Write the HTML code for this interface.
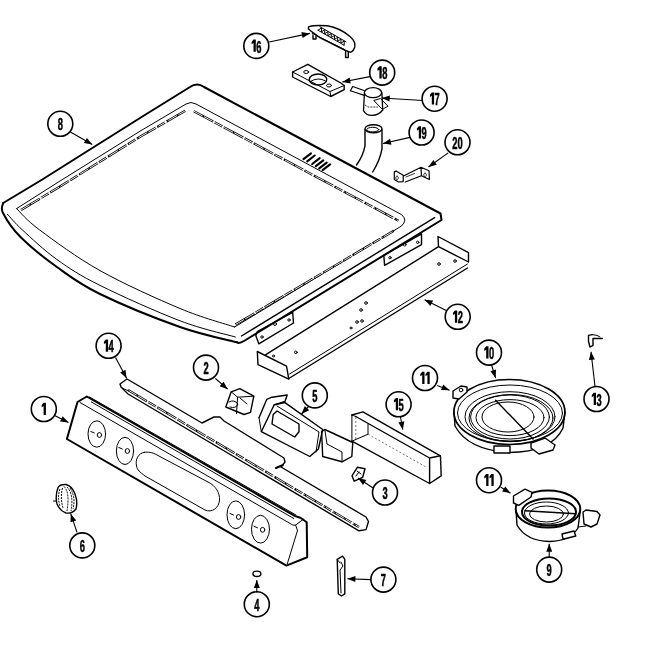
<!DOCTYPE html>
<html><head><meta charset="utf-8"><style>
html,body{margin:0;padding:0;background:#fff;width:650px;height:650px;overflow:hidden}
svg{display:block;will-change:transform}
.lc{fill:none;stroke:#000;stroke-width:1.6}
.lt{font-family:"Liberation Sans",sans-serif;font-size:16px;font-weight:bold;fill:#000;stroke:#000;stroke-width:0.5}
.one{fill:#000}
.ld{stroke:#000;stroke-width:1.1;fill:none}
.ah{fill:#000}
.k{fill:none;stroke:#000;stroke-width:2;stroke-linejoin:round;stroke-linecap:round}
.m{fill:none;stroke:#000;stroke-width:1.4;stroke-linejoin:round;stroke-linecap:round}
.t{fill:none;stroke:#000;stroke-width:1;stroke-linejoin:round;stroke-linecap:round}
.d2{fill:none;stroke:#555;stroke-width:0.8;stroke-dasharray:2 2}
.g{fill:none;stroke:#000;stroke-width:2.3;stroke-dasharray:22 1.5 9 1.5}
.gw{fill:none;stroke:#fff;stroke-width:0.9;stroke-dasharray:10 1.5}
.v{fill:none;stroke:#000;stroke-width:2.1;stroke-linecap:round}
.p{fill:none;stroke:#000;stroke-width:4;stroke-dasharray:2 1.2}
.w{fill:#fff}
.d3{fill:none;stroke:#000;stroke-width:1;stroke-dasharray:2 1}
</style></head><body>
<svg width="650" height="650" viewBox="0 0 650 650">
<!-- frame 8 -->
<path class="k" d="M3.2,203 L41.5,180 L140,118 L190,87 Q197,82 204,87 L440.5,213.5 L441.5,220 L244,341 Q239,344 237,342.3"/>
<path class="k" d="M237.0,342.3 C227.5,339.8 202.8,335.1 180.0,327.0 C157.2,318.9 120.5,304.0 100.0,294.0 C79.5,284.0 70.2,276.5 56.9,267.0 C43.6,257.5 29.5,246.0 20.5,237.0 C11.5,228.0 5.9,218.7 3.0,213.0 C0.1,207.3 3.2,204.7 3.2,203.0"/>
<path class="t" d="M7.4,214.2 C9.9,216.8 14.2,222.4 22.5,230.0 C30.8,237.6 44.0,250.3 56.9,259.5 C69.8,268.7 79.5,275.2 100.0,285.4 C120.5,295.6 157.4,312.2 180.0,320.8 C202.6,329.4 226.2,334.3 235.4,337.0"/>
<path class="m" d="M434.6,217.7 L241.5,336"/>
<path class="t" d="M16.6,208.6 L60,181 L140,131.2 L186,104 Q191,101 196,104 L401.5,214.6 Q408,220 401.5,226 L234.6,327"/>
<path class="t" d="M234.6,327.0 C225.5,323.9 202.4,317.9 180.0,308.5 C157.6,299.1 123.4,283.7 100.0,270.6 C76.6,257.5 53.6,240.3 39.7,230.0 C25.8,219.7 20.5,212.2 16.6,208.6"/>
<path class="g" d="M21,210 L60,186.5 L140,136.8 L186,110.4 M193.8,111.2 L398.5,220.8 M235.4,324.6 L393.8,230.8"/>
<path class="gw" d="M21,210 L60,186.5 L140,136.8 L186,110.4 M193.8,111.2 L398.5,220.8 M235.4,324.6 L393.8,230.8"/>

<!-- vents -->
<path class="v" d="M303.5,159.2 L311.0,153.4 M307.2,161.3 L314.7,155.5 M312.2,164.0 L319.7,158.2 M315.8,166.2 L323.3,160.4 M319.2,168.4 L326.7,162.6 M322.6,170.2 L330.1,164.4"/>
<!-- rail 12 -->
<path class="m" d="M257.3,351.5 L286.5,366.2 L288.8,379.2 L258,364.6 Z"/>
<path class="m" d="M265.8,354.6 L438.5,246.7 M288.8,378.5 L467.5,268"/>
<path class="t" d="M289.6,374 L467.5,264"/>
<path class="m" d="M438,236.5 L468.5,252.7 L468.5,262 L438.5,246.7 Z"/>
<circle class="t" cx="295.8" cy="352.3" r="1.3"/><circle class="t" cx="273.5" cy="356" r="1"/>
<circle class="t" cx="366" cy="303" r="1.3"/><circle class="t" cx="361" cy="310" r="1.3"/><circle class="t" cx="357" cy="322" r="1.3"/><circle class="t" cx="362" cy="321" r="1.3"/><circle class="t" cx="351" cy="328" r="1"/><circle class="t" cx="439" cy="264" r="1.3"/><circle class="t" cx="455" cy="261" r="1.3"/>
<!-- brackets under frame -->
<path class="m" d="M255.8,335.4 L257.3,331.5 L292.7,312.3 L293.5,323 L258.8,343.8 Z"/>
<circle class="t" cx="262" cy="337" r="1.2"/><circle class="t" cx="275" cy="324" r="1.5"/><circle class="t" cx="289" cy="320" r="1.2"/>
<path class="m" d="M383.8,255.4 L421.5,233.8 L421.5,244.6 L384.6,265.4 Z"/>
<circle class="t" cx="390" cy="257.7" r="1.2"/><circle class="t" cx="404.6" cy="244.6" r="1.5"/><circle class="t" cx="417.7" cy="242.3" r="1.2"/>
<!-- panel 1 -->
<path class="k" d="M77.5,402 L86.8,396.5 L294.7,515.9 L300.2,517.7 L303,519.5 L306.7,522.3 L307.2,557.3 L286.4,565.6 L66.9,439 Z"/>
<path class="t" d="M80,402.5 L292.9,525.1 L295.6,525.1 L303,519.5 M91.4,402 L293.8,518.5 M89.5,397 L296,515 M297.5,530.5 L287.3,563.8 M295.6,525.1 L297.5,530.5"/>
<g class="t">
<ellipse cx="96.8" cy="434" rx="8.8" ry="13.2"/>
<ellipse cx="125" cy="450.9" rx="8.6" ry="13.6"/>
<ellipse cx="235.8" cy="514.8" rx="8.8" ry="13.9"/>
<ellipse cx="260.5" cy="529.2" rx="9" ry="13.9"/>
<path d="M90.8,431.5 L94.3,433 M101.6,435 a2.2,2.4 0 1,0 -4.4,0 a2.2,2.4 0 1,0 4.4,0 M118.8,447.5 L122.3,449 M129.6,451 a2.2,2.4 0 1,0 -4.4,0 a2.2,2.4 0 1,0 4.4,0 M230,513.5 L233.5,515 M240.8,517 a2.2,2.4 0 1,0 -4.4,0 a2.2,2.4 0 1,0 4.4,0 M254,526.3 L257.5,527.8 M264.8,529.8 a2.2,2.4 0 1,0 -4.4,0 a2.2,2.4 0 1,0 4.4,0"/>
</g>
<path class="t" d="M144.6,452.3 C138,453 135,460 136.6,466 C137,470 140,472 145,476 L205,510 C212,513 219,508 219.5,500 C220,493 216,486 208,482 L157,455 C152,452 148,452 144.6,452.3 Z"/>
<!-- strip 14 -->
<path class="m" d="M127,379 L202,423 L208,420 L214,417 L220,417 L224,421 L284,458 L285,462 L281,467 L366,517 L368.5,521.5 L366,529.6 L359,530.8 L128,394 L121,387 L120,384 Z"/>
<path class="g" d="M128,390 L359,527"/><path class="gw" d="M128,390 L359,527"/>
<path class="t" d="M122,388 L129,391"/>
<path class="k" d="M276,468 L283,465"/>
<!-- part 6 knob -->
<path class="m" d="M58,487.5 Q60,484 66,484.5 Q72,486 75,494 Q78,502 76,509 Q72,514 66,513 Q60,511 57,504 Q55,496 58,487.5 Z"/>
<path class="d3" d="M60,489 Q57,497 60,506 M62.5,488 Q60,498 63,508 M64,486.5 Q70,492 67,511 M67,487 Q74,494 71,511 M70,488 Q76,497 73,509"/>
<path class="t" d="M56,501 L53.5,501"/>
<!-- part 2 -->
<path class="m" d="M225.8,407 L231.2,391.8 L239.8,388.6 L253.8,396.2 L250.5,412.3 L244,414.5 Z"/>
<path class="t" d="M231.2,391.8 L237.6,397.2 L253.8,396.2 M237.6,397.2 L236.5,413.5"/>
<path class="t" d="M229,402 Q234,399 238,404 Q236,409 230,407 M240,398 L247,404"/>
<!-- part 5 -->
<path class="m" d="M259,417.7 L266.7,399.4 L272,397.2 L287.2,395 L285,401.5 L274.2,404.8"/>
<path class="m" d="M274.2,404.8 L285,402.6 L322.7,429.5 L318.4,449 L309.8,456.5 L261.3,431.7 Z"/>
<path class="m" d="M273.2,414.5 L277,411 L299,424 L299,431.7 L294.7,437 L272,424 Z"/>
<path class="t" d="M259,417.7 L261.3,431.7 M277,406 L319,432 L316,452"/>
<path class="m" d="M321.6,431.7 L324.8,429.5 L352.8,442.5 L351.8,456.5 L342,461.8 L322.7,456.5 Z"/>
<path class="t" d="M324.8,429.5 L327,444 L342,452 L342,461.8"/>
<!-- part 15 -->
<path class="m" d="M351.9,415 L362.9,411.9 L440.4,455.8 L441.2,475.8 L429.6,483.5 L351.9,441.2"/>
<path class="m" d="M355.8,416.5 L429.6,458 L429.6,483.5 M429.6,458 L440.4,455.8"/>
<path class="t" d="M351.9,415 L355.8,416.5 M368,424.2 L368,434.2 L351.9,441.2 M351.9,415 L351.9,441.2"/>
<path class="d2" d="M368,434.2 L426.5,467.3 M355.8,417 L355.8,440 M441,457 L441,475"/>
<!-- part 3 -->
<path class="m" d="M352,475.8 L357.3,467.3 L365,468.8 L362.7,477.3 L354.2,481.2 Z"/>
<path class="t" d="M357,471 L361,474 M356,476 L359,472"/>
<!-- part 7 -->
<path class="m" d="M337.2,559.4 L342.6,556.2 L344.8,559.4 L344.8,593.8 L341.5,596 L338.3,593.8 Z"/>
<path class="t" d="M341,562 L343,566 L340,570 L341,593 M337.2,559.4 L340,563"/>
<!-- part 4 -->
<ellipse class="m" cx="256.9" cy="573.8" rx="4" ry="2.7"/>
<!-- burner 10 -->
<ellipse class="m" style="stroke-width:1.7" cx="509.4" cy="412" rx="55.5" ry="32.5"/>
<path class="m" d="M454,412 L455,426 Q468,450 509,452.5 Q552,452 563,428 L565,412"/>
<ellipse class="t" cx="510" cy="413" rx="52.5" ry="28"/>
<ellipse class="t" cx="510" cy="416.7" rx="45" ry="25"/>
<ellipse class="t" cx="510" cy="417" rx="39.4" ry="22"/>
<ellipse class="t" cx="510" cy="417.6" rx="34" ry="18"/>
<ellipse class="t" cx="508" cy="417" rx="26" ry="15"/>
<ellipse class="t" cx="511" cy="418" rx="42" ry="23.5"/>
<path class="m" d="M495.6,400.2 L533,439"/>
<path class="m" style="fill:#fff" d="M531,443 L545,438 L555,445 L553,450 L539,454 L531,448 Z"/>
<path class="m" style="fill:#fff" d="M494,446 L510,446 L510,453 L494,453 Z"/>
<path class="m" style="fill:#fff" d="M453,391 L461,386 L467,387 L467,392 L459,399 L453,398 Z"/>
<circle class="t" cx="461" cy="390" r="1.8"/>
<!-- burner 9 -->
<ellipse class="k" cx="548" cy="509" rx="32.3" ry="18.5"/>
<path class="m" d="M516,510 L517,525 Q526,541 549.6,541.5 Q570,541 578,528 L580.4,510"/>
<ellipse class="k" cx="549" cy="512" rx="27" ry="13.5"/>
<ellipse class="t" cx="546.5" cy="513" rx="22" ry="11"/>
<ellipse class="t" cx="546.5" cy="514" rx="17" ry="8"/>
<path class="m" d="M525,510.8 L575.8,513.8"/>
<path class="m" style="fill:#fff" d="M513.5,496 L525,489.2 L532,492.3 L531,497 L518.8,505.4 L513.5,503 Z"/>
<path class="m" style="fill:#fff" d="M583,512 L586,510 L597,511.5 L600,515 L597,524 L591,527 L584,524 Z"/>
<path class="m" style="fill:#fff" d="M562,534 L574,531 L575.8,536 L563,539.2 Z"/>
<path class="t" d="M578,527 L586,526"/>
<!-- part 16 -->
<path class="m" d="M308.5,26.8 Q314,24.8 327.3,25.8 Q340,28 350,36.5 Q356,42 354.8,47 Q353,52 350,52.2 L345.6,50.5 L319.8,37.6 L311.2,31.2 L308.5,29 Z"/>
<path class="t" d="M312.2,33.3 L344.5,49.5"/>
<path class="m" d="M313,35 L313,39 L316,39 L316,36 M345.6,51.6 L345.6,57.5 L348.3,57.5 L348.3,52"/>
<path class="t" d="M318.1,30.1 L321.5,27.9 L321.4,31.9 L324.8,29.8 L324.6,33.8 L328.0,31.6 L327.9,35.7 L331.3,33.5 L331.1,37.6 L334.5,35.4 L334.4,39.4 L337.8,37.3 L337.6,41.3 L341.0,39.1 L340.9,43.2 L344.3,41.0 L344.1,45.1"/><path class="t" d="M318.0,30.2 L344.0,45.2 M320.0,26.8 L346.0,41.8"/>
<!-- part 18 -->
<path class="m" d="M292.6,72 L307.8,64.3 L340.8,83 L344.2,85.5 L344.2,89.7 L330.7,96.5 L292.6,77 Z"/>
<path class="t" d="M292.6,72 L330,91.5 L344.2,85.5 M330,91.5 L330.7,96.5"/>
<ellipse class="m" cx="318" cy="79.5" rx="8.8" ry="5.5"/>
<path class="t" d="M310.5,81.5 Q318,76.5 325.5,81"/>
<ellipse class="t" cx="306.2" cy="72" rx="2.5" ry="1.5"/>
<ellipse class="t" cx="329" cy="85.5" rx="2.5" ry="1.5"/>
<!-- part 17 -->
<path class="m" style="stroke-width:1.2" d="M350.4,90.8 L352.7,86.5 L364,90.5 M355,92.3 L364.2,95.4 M350.4,90.8 L355,92.3"/>
<ellipse class="m" style="stroke-width:1.3" cx="373" cy="92.7" rx="8.6" ry="5"/>
<path class="m" style="stroke-width:1.3" d="M364.4,93 L363.5,110.8 Q366,115.5 372,115.4 Q379,115 382.7,110 L381.9,92.7"/>
<path class="t" d="M374.2,100.4 L380.4,98.5 L388,106.2 L382.7,109.2 Z"/>
<path class="d3" style="stroke-width:0.8" d="M365,105 L368,107 L378,107"/>
<!-- hose 19 -->
<ellipse class="m" cx="373.5" cy="128.8" rx="8.5" ry="4"/>
<ellipse class="t" cx="372.8" cy="129.6" rx="6" ry="2.3"/>
<path class="m" d="M365,129.6 L365,145.8 Q363,156 356.5,165 M382,129.6 L382,148.8 Q380,160 372.7,172"/>
<!-- bracket 20 -->
<path class="t" style="stroke-width:1.2" d="M394.3,171.9 L396,171.1 L403.2,175.3 L403.2,181.6 L398.5,182 L394.3,179.5 Z M404,175.7 L421,167.3 L429,170.7 L429.4,179.5 L421.4,175.7 L405.3,182 M421,167.3 L421.4,175.7"/>
<path class="t" style="stroke-width:0.8" d="M406,177 L414.6,173.5 M397,176 a1.3,1.8 0 1,0 0.1,0 M425,173 a1.3,1.8 0 1,0 0.1,0"/>
<!-- clip 13 -->
<path class="m" d="M592.3,334.6 L588.5,335.4 L588.5,341.5 L590,347 L593,345.4 L593,338.5 L602.3,338.5"/>
<path class="t" d="M592.3,334.6 L597,335.4 L600,337"/>

<circle cx="256.3" cy="45.9" r="12.5" class="lc"/>
<path class="one" d="M253.50,39.60 h2.3 v12.2 h-2.3 v-8.8 l-1.9,1.2 v-2.3 z"/>
<text x="256.3" y="52.5" textLength="5.2" lengthAdjust="spacingAndGlyphs" class="lt">6</text>
<circle cx="382.2" cy="72.6" r="12.5" class="lc"/>
<path class="one" d="M379.40,66.30 h2.3 v12.2 h-2.3 v-8.8 l-1.9,1.2 v-2.3 z"/>
<text x="382.2" y="79.2" textLength="5.2" lengthAdjust="spacingAndGlyphs" class="lt">8</text>
<circle cx="434.6" cy="98.7" r="12.5" class="lc"/>
<path class="one" d="M431.80,92.40 h2.3 v12.2 h-2.3 v-8.8 l-1.9,1.2 v-2.3 z"/>
<text x="434.6" y="105.3" textLength="5.2" lengthAdjust="spacingAndGlyphs" class="lt">7</text>
<circle cx="60.3" cy="123.8" r="12.5" class="lc"/>
<text x="57.7" y="130.4" textLength="5.2" lengthAdjust="spacingAndGlyphs" class="lt">8</text>
<circle cx="421.6" cy="132.5" r="12.5" class="lc"/>
<path class="one" d="M418.80,126.20 h2.3 v12.2 h-2.3 v-8.8 l-1.9,1.2 v-2.3 z"/>
<text x="421.6" y="139.1" textLength="5.2" lengthAdjust="spacingAndGlyphs" class="lt">9</text>
<circle cx="457.5" cy="142.3" r="12.5" class="lc"/>
<text x="452.3" y="148.9" textLength="5.2" lengthAdjust="spacingAndGlyphs" class="lt">2</text>
<text x="457.5" y="148.9" textLength="5.2" lengthAdjust="spacingAndGlyphs" class="lt">0</text>
<circle cx="457.7" cy="316.8" r="12.5" class="lc"/>
<path class="one" d="M454.90,310.50 h2.3 v12.2 h-2.3 v-8.8 l-1.9,1.2 v-2.3 z"/>
<text x="457.7" y="323.4" textLength="5.2" lengthAdjust="spacingAndGlyphs" class="lt">2</text>
<circle cx="108.6" cy="345.8" r="12.5" class="lc"/>
<path class="one" d="M105.80,339.50 h2.3 v12.2 h-2.3 v-8.8 l-1.9,1.2 v-2.3 z"/>
<text x="108.6" y="352.4" textLength="5.2" lengthAdjust="spacingAndGlyphs" class="lt">4</text>
<circle cx="596.5" cy="399" r="12.5" class="lc"/>
<path class="one" d="M593.70,392.70 h2.3 v12.2 h-2.3 v-8.8 l-1.9,1.2 v-2.3 z"/>
<text x="596.5" y="405.6" textLength="5.2" lengthAdjust="spacingAndGlyphs" class="lt">3</text>
<circle cx="489" cy="352.6" r="12.5" class="lc"/>
<path class="one" d="M486.20,346.30 h2.3 v12.2 h-2.3 v-8.8 l-1.9,1.2 v-2.3 z"/>
<text x="489.0" y="359.2" textLength="5.2" lengthAdjust="spacingAndGlyphs" class="lt">0</text>
<circle cx="206" cy="367.6" r="12.5" class="lc"/>
<text x="203.4" y="374.2" textLength="5.2" lengthAdjust="spacingAndGlyphs" class="lt">2</text>
<circle cx="425" cy="378" r="12.5" class="lc"/>
<path class="one" d="M422.20,371.70 h2.3 v12.2 h-2.3 v-8.8 l-1.9,1.2 v-2.3 z"/>
<path class="one" d="M427.40,371.70 h2.3 v12.2 h-2.3 v-8.8 l-1.9,1.2 v-2.3 z"/>
<circle cx="314.8" cy="395.4" r="12.5" class="lc"/>
<text x="312.2" y="402.0" textLength="5.2" lengthAdjust="spacingAndGlyphs" class="lt">5</text>
<circle cx="398.6" cy="404.3" r="12.5" class="lc"/>
<path class="one" d="M395.80,398.00 h2.3 v12.2 h-2.3 v-8.8 l-1.9,1.2 v-2.3 z"/>
<text x="398.6" y="410.9" textLength="5.2" lengthAdjust="spacingAndGlyphs" class="lt">5</text>
<circle cx="43.8" cy="409" r="12.5" class="lc"/>
<path class="one" d="M43.60,402.70 h2.3 v12.2 h-2.3 v-8.8 l-1.9,1.2 v-2.3 z"/>
<circle cx="385" cy="492.5" r="12.5" class="lc"/>
<text x="382.4" y="499.1" textLength="5.2" lengthAdjust="spacingAndGlyphs" class="lt">3</text>
<circle cx="489" cy="480.2" r="12.5" class="lc"/>
<path class="one" d="M486.20,473.90 h2.3 v12.2 h-2.3 v-8.8 l-1.9,1.2 v-2.3 z"/>
<path class="one" d="M491.40,473.90 h2.3 v12.2 h-2.3 v-8.8 l-1.9,1.2 v-2.3 z"/>
<circle cx="82.3" cy="545.4" r="12.5" class="lc"/>
<text x="79.7" y="552.0" textLength="5.2" lengthAdjust="spacingAndGlyphs" class="lt">6</text>
<circle cx="549.2" cy="569.6" r="12.5" class="lc"/>
<text x="546.6" y="576.2" textLength="5.2" lengthAdjust="spacingAndGlyphs" class="lt">9</text>
<circle cx="383.4" cy="579.6" r="12.5" class="lc"/>
<text x="380.8" y="586.2" textLength="5.2" lengthAdjust="spacingAndGlyphs" class="lt">7</text>
<circle cx="256.8" cy="604.2" r="12.5" class="lc"/>
<text x="254.2" y="610.8" textLength="5.2" lengthAdjust="spacingAndGlyphs" class="lt">4</text>
<line x1="269.2" y1="42" x2="309.8" y2="33.4" class="ld"/>
<path d="M309.8,33.4 L302.6,38.0 L301.4,32.1Z" class="ah"/>
<line x1="369.9" y1="76.6" x2="342.3" y2="82" class="ld"/>
<path d="M342.3,82.0 L349.6,77.5 L350.7,83.4Z" class="ah"/>
<line x1="423" y1="100.5" x2="381.7" y2="98" class="ld"/>
<path d="M381.7,98.0 L389.9,95.5 L389.5,101.5Z" class="ah"/>
<line x1="70" y1="131.7" x2="92.3" y2="144.5" class="ld"/>
<path d="M92.3,144.5 L83.9,143.1 L86.9,137.9Z" class="ah"/>
<line x1="410" y1="137.4" x2="383" y2="143.5" class="ld"/>
<path d="M383.0,143.5 L390.1,138.8 L391.5,144.7Z" class="ah"/>
<line x1="448.2" y1="152.9" x2="428.5" y2="167" class="ld"/>
<path d="M428.5,167.0 L433.3,159.9 L436.8,164.8Z" class="ah"/>
<line x1="446.8" y1="310.8" x2="424.6" y2="299.7" class="ld"/>
<path d="M424.6,299.7 L433.1,300.6 L430.4,306.0Z" class="ah"/>
<line x1="115.5" y1="357.4" x2="126.6" y2="378.2" class="ld"/>
<path d="M126.6,378.2 L120.2,372.6 L125.5,369.7Z" class="ah"/>
<line x1="595" y1="386.5" x2="591" y2="351.8" class="ld"/>
<path d="M591.0,351.8 L594.9,359.4 L588.9,360.1Z" class="ah"/>
<line x1="491.4" y1="364.5" x2="495.6" y2="378" class="ld"/>
<path d="M495.6,378.0 L490.4,371.3 L496.1,369.5Z" class="ah"/>
<line x1="215.4" y1="378.5" x2="227.7" y2="389.2" class="ld"/>
<path d="M227.7,389.2 L219.7,386.2 L223.6,381.7Z" class="ah"/>
<line x1="437.2" y1="385.4" x2="449.5" y2="390.3" class="ld"/>
<path d="M449.5,390.3 L441.0,390.1 L443.2,384.6Z" class="ah"/>
<line x1="309" y1="406" x2="301.5" y2="414" class="ld"/>
<path d="M301.5,414.0 L304.8,406.1 L309.2,410.2Z" class="ah"/>
<line x1="400.3" y1="416" x2="402.8" y2="429.7" class="ld"/>
<path d="M402.8,429.7 L398.4,422.4 L404.3,421.3Z" class="ah"/>
<line x1="54.6" y1="415.5" x2="68.5" y2="422.5" class="ld"/>
<path d="M68.5,422.5 L60.0,421.6 L62.7,416.2Z" class="ah"/>
<line x1="373" y1="488" x2="358" y2="478" class="ld"/>
<path d="M358.0,478.0 L366.3,479.9 L363.0,484.9Z" class="ah"/>
<line x1="500.6" y1="487" x2="510.5" y2="493.2" class="ld"/>
<path d="M510.5,493.2 L502.1,491.5 L505.3,486.4Z" class="ah"/>
<line x1="77" y1="532.3" x2="70.8" y2="513.8" class="ld"/>
<path d="M70.8,513.8 L76.2,520.4 L70.5,522.3Z" class="ah"/>
<line x1="549.2" y1="557" x2="549.2" y2="543.8" class="ld"/>
<path d="M549.2,543.8 L552.2,551.8 L546.2,551.8Z" class="ah"/>
<line x1="371" y1="579.6" x2="347.4" y2="578.8" class="ld"/>
<path d="M347.4,578.8 L355.5,576.1 L355.3,582.1Z" class="ah"/>
<line x1="256.8" y1="592.6" x2="256.8" y2="580" class="ld"/>
<path d="M256.8,580.0 L259.8,588.0 L253.8,588.0Z" class="ah"/>
</svg>
</body></html>
